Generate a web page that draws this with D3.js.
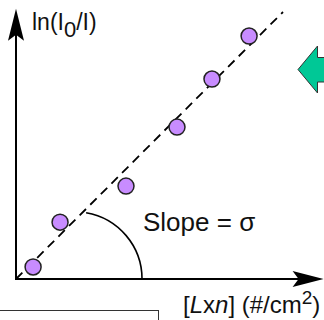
<!DOCTYPE html>
<html><head><meta charset="utf-8">
<script src="https://cdn.jsdelivr.net/npm/d3@7"></script>
<style>html,body{margin:0;padding:0;background:#fff;overflow:hidden}svg{display:block}</style>
</head><body>
<script>
// data (arbitrary units)
const pointX = [0.64, 1.65, 4.12, 6.03, 7.34, 8.73];
const pointY = [0.45, 2.13, 3.48, 5.69, 7.49, 9.10];
const fitX = [0, 10];
const fitY = [0, 10];
const yLabel = "ln(I", ySub = "0", yLabelEnd = "/I)";
const slopeLabel = "Slope = σ";

const W = 324, H = 320;
const svg = d3.select("body").append("svg").attr("width", W).attr("height", H);
const x = d3.scaleLinear().domain([0, 10]).range([16, 283]);
const y = d3.scaleLinear().domain([0, 10]).range([279, 12]);
const font = "'Liberation Sans', Arial, sans-serif";

// bottom box (partially visible)
svg.append("rect").attr("x", -5).attr("y", 310.5).attr("width", 163.5).attr("height", 30)
  .attr("fill", "none").attr("stroke", "#333").attr("stroke-width", 1);

// green arrow (cut off at right)
svg.append("path").attr("d", "M298,69.5 L317.5,46 L317.5,57.5 L340,57.5 L340,82 L317.5,82 L317.5,93 Z")
  .attr("fill", "#00C896").attr("stroke", "#333").attr("stroke-width", 1);

// axes
const ox = x(0), oy = y(0);
const xTip = x(11.52), yTip = y(10.12);
svg.append("line").attr("x1", ox).attr("y1", oy).attr("x2", xTip - 20).attr("y2", oy)
  .attr("stroke", "#000").attr("stroke-width", 2);
svg.append("line").attr("x1", ox).attr("y1", oy + 1).attr("x2", ox).attr("y2", yTip + 20)
  .attr("stroke", "#000").attr("stroke-width", 2);
svg.append("path").attr("d", `M${xTip},${oy} L${xTip-31},${oy-8} L${xTip-25},${oy} L${xTip-31},${oy+8} Z`).attr("fill", "#000");
svg.append("path").attr("d", `M${ox},${yTip} L${ox-8},${yTip+32} L${ox},${yTip+26} L${ox+8},${yTip+32} Z`).attr("fill", "#000");

// dashed fit line
svg.append("line").attr("x1", x(fitX[0])).attr("y1", y(fitY[0])).attr("x2", x(fitX[1])).attr("y2", y(fitY[1]))
  .attr("stroke", "#000").attr("stroke-width", 1.8).attr("stroke-dasharray", "9,6");

// angle arc
const cx = x(2.2), cy = y(0), r = x(4.72) - x(2.2);
const p = d3.path();
p.arc(cx, cy, r, -Math.PI / 2 + 0.17, 0, false);
svg.append("path").attr("d", p.toString()).attr("fill", "none").attr("stroke", "#000").attr("stroke-width", 1.6);

// points
svg.selectAll("circle.pt").data(pointX.map((v, i) => [v, pointY[i]])).enter().append("circle")
  .attr("class", "pt").attr("cx", d => x(d[0])).attr("cy", d => y(d[1])).attr("r", 8)
  .attr("fill", "#C88CFF").attr("stroke", "#222").attr("stroke-width", 1.5);

// labels
const t1 = svg.append("text").attr("x", 32).attr("y", 30).attr("font-family", font).attr("font-size", 23).attr("fill", "#111");
t1.append("tspan").text(yLabel);
t1.append("tspan").attr("dy", 7).attr("font-size", 22).text(ySub);
t1.append("tspan").attr("dy", -7).text(yLabelEnd);

svg.append("text").attr("x", 143).attr("y", 231).attr("font-family", font).attr("font-size", 26).attr("fill", "#111").text(slopeLabel);

const t2 = svg.append("text").attr("x", 183).attr("y", 313).attr("font-family", font).attr("font-size", 24).attr("fill", "#111");
t2.append("tspan").text("[");
t2.append("tspan").attr("font-style", "italic").text("L");
t2.append("tspan").text("x");
t2.append("tspan").attr("font-style", "italic").text("n");
t2.append("tspan").text("] (#/cm");
t2.append("tspan").attr("dy", -9).attr("font-size", 19).text("2");
t2.append("tspan").attr("dy", 9).text(")");
</script>
</body></html>
